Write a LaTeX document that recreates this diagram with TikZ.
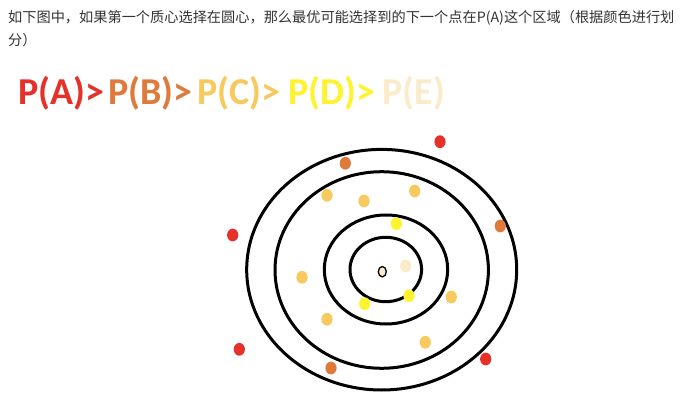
\documentclass[tikz,border=0pt]{standalone}
\usepackage{fontspec}
\usepackage{xcolor}
\usepackage{tikz}
\usetikzlibrary{positioning}
\newfontfamily\cjk{Noto Sans CJK SC}
\newfontfamily\calib{Carlito}
\definecolor{textgray}{HTML}{333333}
\definecolor{pred}{HTML}{E6312A}
\definecolor{porange}{HTML}{DE7A3C}
\definecolor{plight}{HTML}{F7C95E}
\definecolor{pyellow}{HTML}{FFF22E}
\definecolor{pcream}{HTML}{FAEBCB}

\tikzset{
  ring/.style={draw=black, line width=3pt},
  dot/.style={x radius=5.6, y radius=6.4},
  plabel/.style={anchor=base west, inner sep=0pt,
                 font=\calib\bfseries\fontsize{38}{40}\selectfont},
  caption/.style={anchor=west, inner sep=0pt, text=textgray,
                  font=\cjk\fontsize{14.2}{17}\selectfont}
}

\begin{document}
\begin{tikzpicture}[x=1pt, y=-1pt]
    \useasboundingbox[fill=white] (0,0) rectangle (689,409);

    % caption
    \node[caption] (line1) at (8,18)
      {如下图中，如果第一个质心选择在圆心，那么最优可能选择到的下一个点在P(A)这个区域（根据颜色进行划};
    \node[caption] (line2) at (8,40) {分）};

    % ordering of the regions
    \node[plabel, text=pred]    (pa) at (18,105) {P(A)>};
    \node[plabel, text=porange] (pb) at (108,105) {P(B)>};
    \node[plabel, text=plight]  (pc) at (197,105) {P(C)>};
    \node[plabel, text=pyellow] (pd) at (288,105) {P(D)>};
    \node[plabel, text=pcream]  (pe) at (382.5,105) {P(E)};

    % rings
    \draw[ring] (381.7,269.7) ellipse[x radius=135, y radius=120.3];
    \draw[ring] (381.7,270) ellipse[x radius=106.7, y radius=98.3];
    \draw[ring] (386,269.5) ellipse[x radius=61.7, y radius=54.5];
    \draw[ring] (385.8,269.5) ellipse[x radius=35.8, y radius=32.2];

    % points
    \foreach \px/\py in {440/141.7, 232.7/235, 239.3/349.3, 485.7/359}
      \fill[pred] (\px,\py) ellipse[dot];
    \foreach \px/\py in {345.3/163.3, 500.3/226, 331/368}
      \fill[porange] (\px,\py) ellipse[dot];
    \foreach \px/\py in {327/195.3, 364/201, 414.7/191, 302/277.3,
                         451.3/297, 327/319.3, 425.3/342.3}
      \fill[plight] (\px,\py) ellipse[dot];
    \foreach \px/\py in {396.3/223.7, 409/295.7, 364.7/303.7}
      \fill[pyellow] (\px,\py) ellipse[dot];
    \fill[pcream] (405.7,266) ellipse[dot];

    % first centroid
    \draw[fill=pcream, line width=1.3pt] (382.3,271.7) ellipse[x radius=4, y radius=5.2];
\end{tikzpicture}
\end{document}
